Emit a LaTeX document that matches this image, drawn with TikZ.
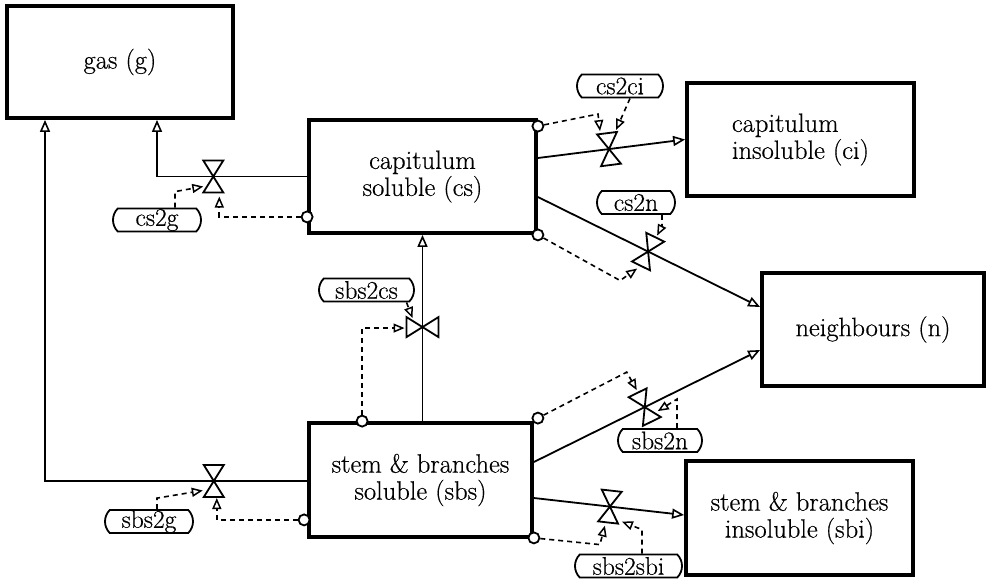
\documentclass[tikz,border=0pt]{standalone}
\usepackage{fontspec}
\setmainfont{Latin Modern Roman}[FakeBold=0.5]
\usetikzlibrary{arrows.meta,shapes.misc,calc}
\begin{document}
\begin{tikzpicture}[x=1pt,y=-1pt,
  compartment/.style={draw, line width=3.8pt, minimum width=226pt, minimum height=113pt,
    inner sep=0pt, align=center, font=\fontsize{26.5}{27}\selectfont},
  flow/.style={line width=1.8pt, -{Triangle[open, length=12pt, width=10pt, line width=1.6pt]}},
  ctrl/.style={line width=1.6pt, dash pattern=on 5pt off 4pt,
    -{Triangle[open, length=11pt, width=9pt, line width=1.5pt]}},
  tag/.style={draw, rounded rectangle, rounded rectangle arc length=90, line width=1.8pt,
    minimum height=23pt, inner sep=0pt, fill=white, font=\fontsize{25.5}{27}\selectfont},
  port/.style={draw, circle, fill=white, line width=1.8pt, minimum size=11pt, inner sep=0pt},
  valve/.pic={\draw[line width=1.8pt, fill=white, line join=miter]
      (0,0) -- (-10,-16) -- (10,-16) -- cycle
      (0,0) -- (-10,16) -- (10,16) -- cycle;}
]
\useasboundingbox (0,0) rectangle (987,578);

% compartments
\node[compartment, minimum height=112pt] (g) at (120,62) {gas (g)};
\node[compartment, minimum width=227pt] (cs) at (422.5,176.5) {capitulum\\soluble (cs)};
\node[compartment, minimum width=227pt, align=left] (ci) at (800.5,139.5) {capitulum\\insoluble (ci)};
\node[compartment, minimum width=222pt] (n) at (873,329.5) {neighbours (n)};
\node[compartment, minimum width=223pt, minimum height=114pt] (sbs) at (420.5,480) {stem \& branches\\soluble (sbs)};
\node[compartment, minimum width=227pt, minimum height=114pt] (sbi) at (799.5,518) {stem \& branches\\insoluble (sbi)};

% material flows with their valves
\draw[flow] (cs.west) -| coordinate[pos=0.3125] (v1) ([xshift=37pt]g.south);
\pic at (v1) {valve};
\draw[flow] ([yshift=-1pt]sbs.west) -| coordinate[pos=0.178] (v2) ([xshift=-75pt]g.south);
\pic at (v2) {valve};
\draw[flow] ([yshift=18.5pt]cs.east) -- coordinate[pos=0.483] (v3) pic[pos=0.483, sloped]{valve} (ci.west);
\draw[flow] ([yshift=-20.5pt]cs.east) -- coordinate[pos=0.496] (v4) pic[pos=0.496, sloped]{valve} ([yshift=22.5pt]n.west);
\draw[flow] (sbs.north -| cs.south) -- coordinate[pos=0.505] (v5) pic[pos=0.505, sloped]{valve} (cs.south);
\draw[flow] ([yshift=18pt]sbs.east) -- coordinate[pos=0.49] (v6) pic[pos=0.49, sloped]{valve} ([yshift=-20.5pt]n.west);
\draw[flow] ([yshift=-18pt]sbs.east) -- coordinate[pos=0.506] (v7) pic[pos=0.506, sloped]{valve} ([yshift=3pt]sbi.west);

% ports on the compartments
\node[port] (c1) at ([yshift=18pt]cs.south west) {};
\node[port] (c2) at ([shift={(-3pt,19pt)}]sbs.south west) {};
\node[port] (c3) at ([yshift=-8pt]cs.north east) {};
\node[port] (c4) at (cs.south east) {};
\node[port] (c5) at ([xshift=55pt]sbs.north west) {};
\node[port] (c6) at ([shift={(4pt,3pt)}]sbs.north east) {};
\node[port] (c7) at ([yshift=1pt]sbs.south east) {};

% rate labels
\node[tag, minimum width=88pt] (t1) at (157,220) {cs2g};
\node[tag, minimum width=88pt] (t2) at (149,521.5) {sbs2g};
\node[tag, minimum width=86pt] (t3) at (620,86) {cs2ci};
\node[tag, minimum width=78pt] (t4) at (636,202.5) {cs2n};
\node[tag, minimum width=95pt] (t5) at (366.5,290) {sbs2cs};
\node[tag, minimum width=84pt] (t6) at (660,440.5) {sbs2n};
\node[tag, minimum width=107pt] (t7) at (628.5,566) {sbs2sbi};

% control links
\draw[ctrl] (c1) -| ($(v1)+(6,20)$);
\draw[ctrl] ([xshift=18pt]t1.north) -- ++(0,-16) -- ($(v1)+(-10,10)$);
\draw[ctrl] (c2) -| ($(v2)+(3,17)$);
\draw[ctrl] ([xshift=8pt]t2.north) -- ++(0,-11) -- ($(v2)+(-11,9.5)$);
\draw[ctrl] (c3) -- ($(v3)+(-11,-35)$) -- ($(v3)+(-9,-18)$);
\draw[ctrl] ([xshift=10pt]t3.south) -- ($(v3)+(7,-19)$);
\draw[ctrl] (c4) -- ($(v4)+(-28,29)$) -- ($(v4)+(-11,17)$);
\draw[ctrl] ([xshift=26pt]t4.south) -- ++(0,11) -- ($(v4)+(9,-16)$);
\draw[ctrl] (c5) |- ($(v5)+(-18,1)$);
\draw[ctrl] ([xshift=40pt]t5.south) -- ($(v5)+(-10,-9)$);
\draw[ctrl] (c6) -- ($(v6)+(-18,-35)$) -- ($(v6)+(-8,-17)$);
\draw[ctrl] ([xshift=17pt]t6.north) -- ++(0,-29) -- ($(v6)+(13,4)$);
\draw[ctrl] (c7) -- ($(v7)+(-10,38)$) -- ($(v7)+(-5,19)$);
\draw[ctrl] ([xshift=13.5pt]t7.north) -- ++(0,-24) -- ($(v7)+(12,15)$);
\end{tikzpicture}
\end{document}
